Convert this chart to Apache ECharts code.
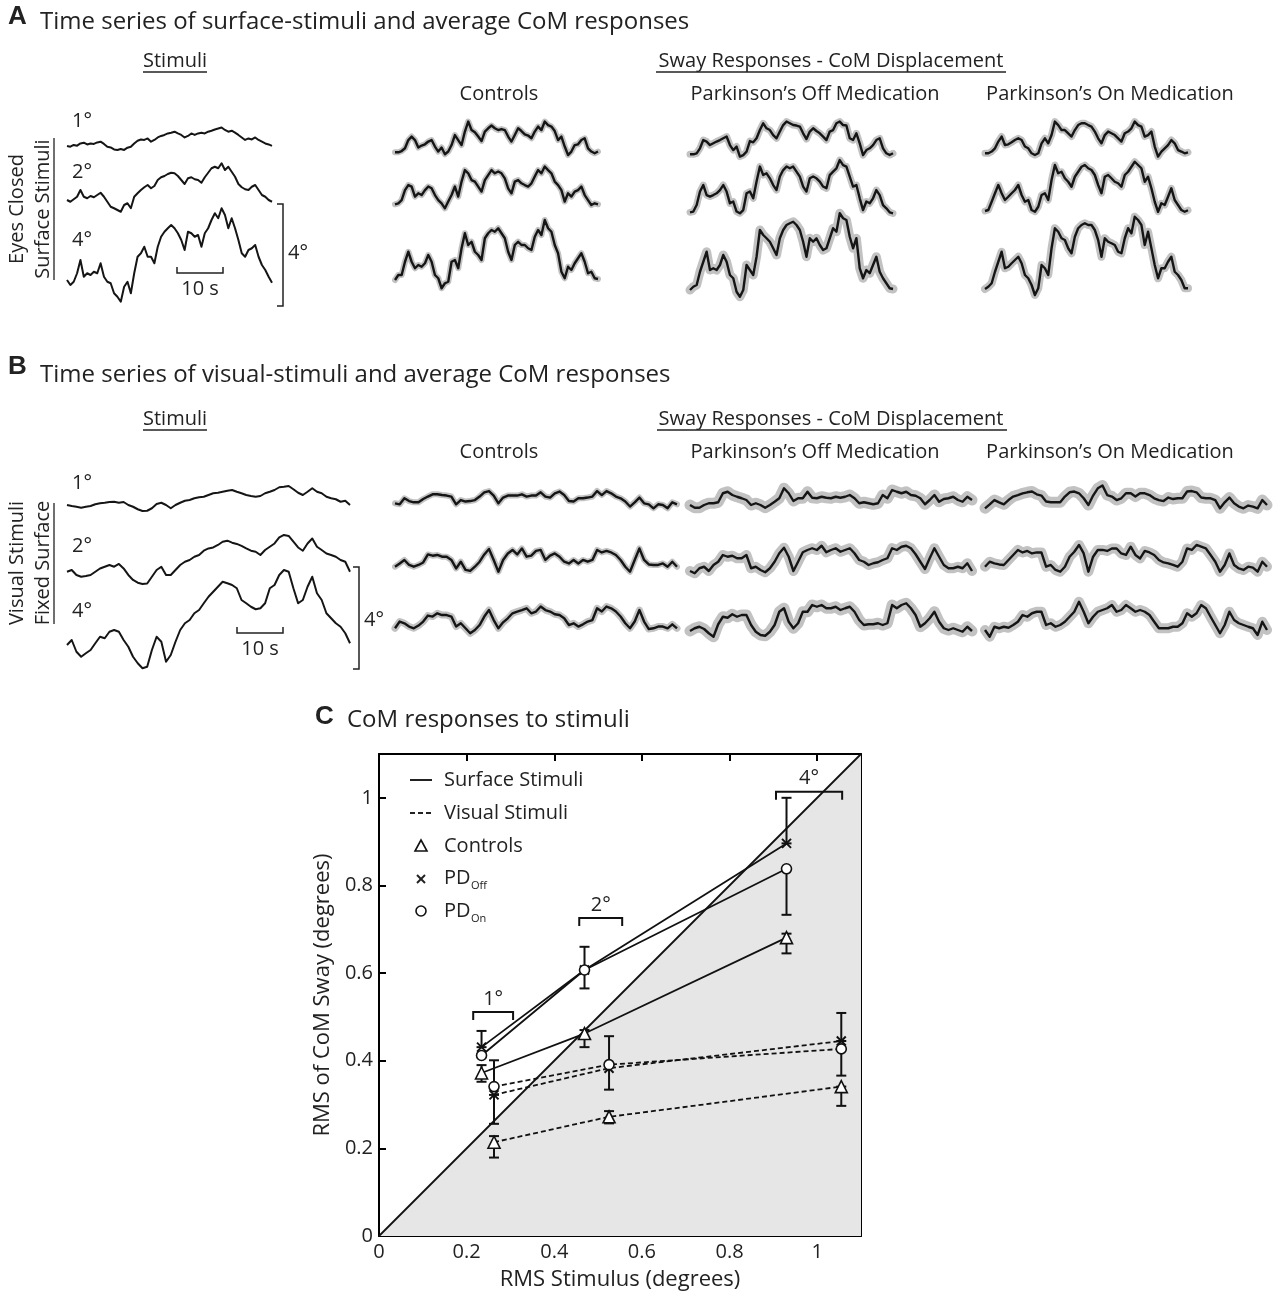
<!DOCTYPE html>
<html><head><meta charset="utf-8">
<script src="https://cdn.jsdelivr.net/npm/echarts@6/dist/echarts.min.js"></script>
<style>html,body{margin:0;padding:0;background:#fff}#c{width:1273px;height:1300px}</style>
</head><body><div id="c"></div>
<script>
// ---------- Panel A: surface stimuli (degrees) ----------
const stimA1 = [0.03,0,0.07,0.04,0.13,0.16,0.09,0.13,0.11,0.17,0.2,0.11,0,-0.03,-0.11,-0.13,-0.09,-0.13,-0.04,0,0.13,0.24,0.29,0.27,0.33,0.2,0.27,0.37,0.43,0.47,0.53,0.56,0.6,0.53,0.47,0.37,0.43,0.53,0.47,0.53,0.56,0.53,0.6,0.64,0.69,0.73,0.77,0.67,0.6,0.64,0.56,0.47,0.37,0.27,0.33,0.29,0.37,0.27,0.2,0.13,0.09,0.03];
const stimA2 = [0,-0.07,0.03,0.13,0.4,0.13,0.07,0.16,0.11,0.2,0.29,0.13,-0.07,-0.27,-0.33,-0.4,-0.47,-0.2,-0.13,-0.33,0.13,0.27,0.4,0.51,0.6,0.47,0.56,0.8,0.91,0.96,1.04,1.09,1.07,0.96,0.8,0.64,0.87,0.91,0.83,0.8,0.69,0.91,1.09,1.27,1.33,1.27,1.47,1.2,1.33,1.13,0.93,0.64,0.51,0.43,0.4,0.53,0.6,0.4,0.2,0.13,0,-0.07];
const stimA4 = [0,-0.2,-0.07,0.27,0.8,0.13,0.27,0.2,0.33,0.27,0.67,0.13,-0.07,-0.13,-0.53,-0.67,-0.87,-0.27,-0.07,-0.53,0.27,0.93,1.07,1.33,0.93,0.93,0.67,1.33,1.73,1.93,2.07,2.2,2.07,1.87,1.6,1.2,1.93,1.87,1.73,1.8,1.33,1.87,2.07,2.4,2.67,2.47,2.87,2.6,2.07,2.47,2.07,1.6,1.07,0.93,1.2,1.27,1.4,0.93,0.6,0.4,0.13,-0.11];
// ---------- Panel A: mean CoM responses (degrees) ----------
const ctrlA1 = [0,0,0.05,0.16,0.49,0.63,0.49,0.19,0.27,0.32,0.43,0.49,0.23,0.03,0.19,-0.08,0.03,0.29,0.69,0.49,0.29,0.83,1.23,0.89,0.8,0.63,0.45,0.83,0.96,1.07,0.96,0.89,0.93,0.89,0.63,0.43,0.69,0.96,0.85,0.72,0.67,0.56,0.83,1.03,0.89,1.23,1.09,1.03,0.85,0.49,0.63,0.23,-0.11,0.03,0.29,0.32,0.49,0.56,0.16,0.03,-0.04,0.03];
const ctrlA2 = [0,0.04,0.17,0.57,0.77,0.71,0.31,0.44,0.37,0.57,0.71,0.64,0.37,0.17,0.04,-0.16,0.11,0.37,0.71,0.31,0.91,1.37,1.24,0.97,0.91,0.71,0.51,0.97,1.17,1.37,1.24,1.31,1.24,1.04,0.64,0.44,0.91,0.97,0.84,0.77,0.71,0.84,1.11,1.37,1.24,1.51,1.37,1.24,0.91,0.77,0.57,0.11,0.44,0.31,0.51,0.57,0.71,0.37,0.17,-0.03,0.04,0];
const ctrlA4 = [0,0.2,0.2,0.73,1.13,0.73,0.47,0.6,0.53,0.67,1,0.73,0.2,0.07,-0.33,-0.13,-0.07,0.73,0.8,0.47,1.27,1.87,1.4,1.53,1.13,1,0.8,1.67,1.87,2,1.93,2.07,1.87,1.67,1.13,0.8,1.4,1.53,1.4,1.4,1.27,1.2,1.73,2,1.8,2.4,2.07,1.93,1.4,1.07,0.33,0.07,0.53,0.4,0.67,0.87,1.07,0.73,0.27,0.33,0.07,0.04];
const offA1 = [0,0,0.04,0.24,0.57,0.51,0.37,0.44,0.51,0.57,0.64,0.71,0.37,0.17,0.31,-0.09,-0.03,0.11,0.53,0.48,0.64,0.97,1.24,1.04,0.97,0.77,0.64,0.91,1.17,1.31,1.24,1.17,1.15,1.11,0.84,0.61,0.91,1.04,0.93,0.84,0.71,0.57,0.91,0.97,1.24,1.31,1.17,1.15,0.64,0.57,0.84,0.44,-0.03,0.17,0.24,0.37,0.57,0.64,0.24,0.04,-0.03,0.04];
const offA2 = [0,0.03,0.29,0.83,1.09,0.69,0.63,0.69,0.76,0.89,1.09,0.83,0.36,0.43,0.03,-0.04,0.09,0.76,0.83,0.56,1.23,1.83,1.49,1.56,1.36,1.09,0.89,1.43,1.69,1.83,1.76,1.83,1.63,1.43,1.03,0.83,1.36,1.43,1.36,1.23,1.03,0.96,1.49,1.63,1.76,2.09,1.89,1.83,1.43,1.03,1.09,0.56,0.09,0.43,0.36,0.56,0.89,0.69,0.29,0.16,0,-0.04];
const offA4 = [0,0.13,0.2,0.73,1.13,1.53,0.8,0.87,0.8,1,1.4,1.13,0.6,0.47,-0.07,-0.27,0,1,0.8,0.6,1.33,2.4,2.2,2.07,1.93,1.67,1.4,2.07,2.4,2.6,2.67,2.73,2.6,2.4,1.93,1.33,2.07,1.93,2.07,1.8,1.6,1.67,2.07,2.47,2.33,3.07,2.87,2.8,2.13,1.67,2.07,0.87,0.47,0.8,0.67,1,1.33,0.73,0.47,0.27,0.07,0.04];
const onA1 = [0,0,0.07,0.2,0.47,0.67,0.33,0.36,0.44,0.53,0.6,0.53,0.27,0.2,0,-0.07,0,0.4,0.6,0.4,0.73,1.27,1.13,0.93,0.93,0.8,0.67,0.93,1.13,1.2,1.2,1.13,1.07,0.87,0.6,0.4,0.73,0.87,0.8,0.73,0.6,0.47,0.8,0.87,1,1.27,1.13,1.07,0.67,0.73,0.87,0.27,-0.13,0.07,0.2,0.33,0.53,0.4,0.13,0.07,0,0.04];
const onA2 = [0,0.04,0.37,0.71,1.04,0.71,0.44,0.57,0.71,0.84,1.04,0.64,0.37,0.44,0.04,-0.03,0.17,0.64,0.71,0.44,1.24,1.84,1.51,1.57,1.31,1.17,0.97,1.37,1.57,1.77,1.84,1.71,1.64,1.44,1.04,0.71,1.37,1.44,1.31,1.17,1.11,0.97,1.44,1.57,1.77,1.97,1.84,1.71,1.17,1.37,0.91,0.37,-0.03,0.31,0.24,0.57,0.91,0.44,0.24,0.04,-0.03,0.03];
const onA4 = [0,0.09,0.23,0.69,1.09,1.49,0.83,0.89,1.03,1.16,1.29,1.03,0.56,0.43,0.16,-0.24,0.03,0.96,0.83,0.56,1.63,2.43,2.29,2.03,1.96,1.63,1.43,2.09,2.43,2.56,2.63,2.56,2.56,2.36,1.96,1.29,2.03,1.89,1.83,1.76,1.49,1.43,2.03,2.43,2.23,2.89,2.76,2.56,1.76,2.29,1.63,0.96,0.43,0.83,0.83,1.09,1.29,0.69,0.56,0.36,0.03,0.03];
// ---------- Panel B: visual stimuli (degrees) ----------
const stimB1 = [0,-0.04,-0.07,-0.11,-0.07,-0.04,0.03,0.07,0.09,0.12,0.13,0.09,0.12,0,-0.07,-0.17,-0.24,-0.23,-0.13,0.04,0.09,0,-0.13,0,0.09,0.17,0.2,0.27,0.31,0.33,0.4,0.47,0.49,0.53,0.57,0.6,0.53,0.47,0.4,0.36,0.33,0.36,0.47,0.53,0.6,0.71,0.73,0.76,0.63,0.49,0.4,0.53,0.67,0.53,0.47,0.33,0.27,0.23,0.13,0.17,0];
const stimB2 = [0,0.07,-0.13,-0.2,-0.17,-0.13,0,0.13,0.2,0.27,0.2,0.31,0.13,-0.13,-0.33,-0.44,-0.49,-0.47,-0.2,0.07,0.2,-0.13,-0.13,0.07,0.27,0.4,0.47,0.6,0.67,0.84,0.93,0.97,1.07,1.2,1.24,1.16,1.11,1.03,0.93,0.84,0.8,0.67,0.87,1,1.13,1.37,1.47,1.43,1.2,0.97,0.84,1.13,1.33,1,0.87,0.73,0.67,0.6,0.47,0.4,0];
const stimB4 = [0,0.2,-0.27,-0.47,-0.33,-0.2,0.07,0.33,0.27,0.53,0.6,0.53,0.2,-0.07,-0.47,-0.73,-0.93,-0.87,-0.2,0.33,0.13,-0.67,-0.4,0.13,0.6,0.87,1,1.27,1.4,1.67,1.93,2.13,2.33,2.53,2.47,2.4,2.27,1.8,1.67,1.53,1.43,1.47,1.67,2.27,2.4,2.8,3,2.93,2.27,1.67,1.8,2.33,2.73,2.07,1.8,1.27,1.07,0.87,0.73,0.47,0.07];
// ---------- Panel B: mean CoM responses (degrees) ----------
const ctrlB1 = [0,-0.04,0.2,0.09,0.04,0.04,0.17,0.27,0.36,0.36,0.33,0.31,0.27,-0.04,0.13,0.07,0.09,0.13,0.27,0.44,0.49,0.31,0,0.23,0.31,0.31,0.31,0.36,0.27,0.31,0.31,0.44,0.27,0.23,0.4,0.47,0.33,0.09,0.07,0.2,0.2,0.23,0.27,0.49,0.33,0.49,0.4,0.27,0.2,0.07,-0.13,0.04,0.23,0,-0.04,-0.2,-0.04,-0.07,-0.2,0.04,-0.04];
const ctrlB2 = [0,0.13,0.27,0.07,0,0.07,0.17,0.49,0.44,0.47,0.4,0.4,0.27,-0.07,0.2,-0.13,-0.17,0,0.2,0.49,0.71,0.27,-0.2,0.27,0.53,0.67,0.49,0.73,0.4,0.44,0.63,0.67,0.27,0.44,0.53,0.4,0.2,0.13,0.27,0.13,0.27,0.2,0.27,0.67,0.57,0.63,0.57,0.47,0.27,0,-0.2,0.27,0.73,0.27,0.09,0.07,0.07,0.13,0,0.2,0];
const ctrlB4 = [0,0.27,0.2,0.07,0,0.11,0.27,0.51,0.47,0.6,0.53,0.53,0.47,0.07,0.2,0,-0.2,-0.07,0.13,0.47,0.73,0.33,0,0.24,0.4,0.6,0.67,0.73,0.8,0.6,0.67,0.87,0.73,0.67,0.56,0.53,0.4,0.13,0.2,0.07,0.16,0.27,0.33,0.8,0.67,0.87,0.8,0.67,0.47,0.2,0,0.27,0.73,0.27,-0.03,0,0.07,0.07,0,0.16,0];
const offB1 = [0,-0.11,-0.11,0,0.07,0.07,0.11,0.47,0.53,0.4,0.33,0.27,0.2,0,0.07,0,-0.11,0,0.13,0.27,0.67,0.47,0.16,0.27,0.27,0.53,0.29,0.27,0.33,0.29,0.27,0.33,0.29,0.33,0.4,0.27,0.07,0.11,0.07,0.03,0.07,0.4,0.27,0.6,0.53,0.47,0.53,0.4,0.37,0.27,0.03,0.2,0.4,0.13,0.24,0.27,0.33,0.2,0.13,0.33,0.2];
const offB2 = [0,-0.09,0.11,0.17,0,0.24,0.37,0.64,0.57,0.61,0.51,0.51,0.64,0.11,0.17,0.04,-0.05,0.11,0.37,0.71,0.93,0.57,0,0.37,0.75,0.84,0.91,0.84,1.01,0.75,0.84,0.91,0.77,0.84,0.91,0.71,0.44,0.37,0.24,0.31,0.35,0.44,0.51,0.91,0.84,0.97,1.01,0.91,0.67,0.37,0.08,0.51,0.91,0.57,0.24,0.11,0.11,0.17,0.11,0.31,0];
const offB4 = [0,0.11,0.17,0.08,-0.09,-0.23,0.27,0.57,0.53,0.67,0.57,0.64,0.64,0.24,-0.03,-0.16,-0.19,-0.03,0.24,0.77,0.91,0.37,0.11,0.31,0.77,0.77,1.04,0.97,1.04,0.91,0.91,0.97,0.84,0.91,0.97,0.77,0.44,0.24,0.27,0.27,0.31,0.24,0.31,1.04,0.91,1.04,1.11,0.91,0.64,0.17,0.31,0.51,0.77,0.37,0.11,0.04,0.11,0.04,-0.03,0.17,0];
const onB1 = [0,0.16,0.33,0.24,0.16,0.33,0.47,0.53,0.6,0.64,0.67,0.56,0.51,0.27,0.24,0.24,0.24,0.47,0.64,0.67,0.6,0.4,0.13,0.51,0.8,0.91,0.53,0.47,0.33,0.4,0.6,0.6,0.47,0.6,0.6,0.53,0.4,0.33,0.29,0.43,0.37,0.4,0.4,0.67,0.69,0.64,0.43,0.4,0.4,0.33,0,0.24,0.43,0.2,0.07,0,0.11,0.07,0,0.33,0.13];
const onB2 = [0,0.2,0.13,0.09,0.07,0.27,0.47,0.67,0.57,0.63,0.53,0.57,0.57,0,0.07,-0.13,-0.2,0,0.4,0.6,0.87,0.53,-0.2,0.4,0.67,0.67,0.63,0.73,0.73,0.53,0.47,0.8,0.47,0.33,0.63,0.57,0.47,0.27,0.17,0.13,0.07,0,0.2,0.73,0.67,0.87,0.8,0.73,0.47,0.2,-0.2,0.07,0.53,0.07,-0.07,-0.13,0,-0.04,-0.2,0.2,0];
const onB4 = [0,-0.27,0.13,0.07,0.13,0.09,0.2,0.33,0.6,0.53,0.67,0.73,0.73,0.2,0.27,0.13,0.2,0.33,0.53,0.73,1.13,0.73,0.27,0.53,0.73,0.8,0.87,1,0.73,0.8,1,0.87,0.73,0.8,0.73,0.6,0.33,0.07,0.07,0.07,0.13,0.13,0.27,0.67,0.53,0.67,1,0.87,0.53,0.2,-0.13,0.2,0.73,0.4,0.27,0.2,0.13,0.07,-0.2,0.33,0];
// ---------- Panel C: RMS values (degrees) ----------
const surfaceStimRMS = [0.234, 0.469, 0.93];
const visualStimRMS = [0.2625, 0.525, 1.055];
const surfCtrl = [0.372, 0.462, 0.681];
const surfOff = [0.431, 0.607, 0.896];
const surfOn = [0.412, 0.607, 0.838];
const visCtrl = [0.214, 0.272, 0.341];
const visOff = [0.322, 0.383, 0.445];
const visOn = [0.341, 0.391, 0.427];
const surfCtrlErr = [[0.352,0.390],[0.431,0.470],[0.645,0.690]];
const surfOffErr = [[0.431,0.468],[0.565,0.660],[0.896,1.000]];
const surfOnErr = [null, null, [0.733,0.838]];
const visCtrlErr = [[0.179,0.228],[0.257,0.285],[0.297,0.341]];
const visOffErr = [[0.256,0.322],[0.334,0.456],[0.445,0.509]];
const visOnErr = [[0.341,0.401], null, [0.366,0.427]];
const identityExtent = [0, 1.1];
const bracketLabels = ['1°', '2°', '4°'];
const bracketSpans = [[0.215, 0.306, 0.511], [0.457, 0.555, 0.726], [0.906, 1.057, 1.014]];

// ---------- layout ----------
const FONT = 'Open Sans';
const PX_PER_DEG = 25, HALF = 3.5;
const traces = [
  {d: stimA1, left: 67, width: 205, base: 146.7, band: 0},
  {d: stimA2, left: 67, width: 205, base: 200, band: 0},
  {d: stimA4, left: 67, width: 205, base: 280, band: 0},
  {d: ctrlA1, left: 395, width: 203, base: 152.3, band: 6},
  {d: ctrlA2, left: 395, width: 203, base: 204.3, band: 6},
  {d: ctrlA4, left: 395, width: 203, base: 280, band: 6},
  {d: offA1, left: 690, width: 203, base: 154.3, band: 7},
  {d: offA2, left: 690, width: 203, base: 212.3, band: 7},
  {d: offA4, left: 690, width: 203, base: 290, band: 9},
  {d: onA1, left: 985, width: 203, base: 153.3, band: 7},
  {d: onA2, left: 985, width: 203, base: 211, band: 7},
  {d: onA4, left: 985, width: 203, base: 289, band: 8},
  {d: stimB1, left: 67, width: 283, base: 505, band: 0},
  {d: stimB2, left: 67, width: 283, base: 571.7, band: 0},
  {d: stimB4, left: 67, width: 283, base: 645, band: 0},
  {d: ctrlB1, left: 395, width: 282, base: 503.3, band: 6},
  {d: ctrlB2, left: 395, width: 282, base: 566.7, band: 6},
  {d: ctrlB4, left: 395, width: 282, base: 628.3, band: 7},
  {d: offB1, left: 690, width: 282, base: 505, band: 11},
  {d: offB2, left: 690, width: 282, base: 571, band: 10},
  {d: offB4, left: 690, width: 282, base: 631, band: 11},
  {d: onB1, left: 985, width: 282, base: 508.3, band: 11},
  {d: onB2, left: 985, width: 282, base: 566.7, band: 10},
  {d: onB4, left: 985, width: 282, base: 630, band: 10}
];

const grids = [], xAxes = [], yAxes = [], series = [];
traces.forEach((t, i) => {
  grids.push({left: t.left, width: t.width, top: t.base - HALF * PX_PER_DEG, height: 2 * HALF * PX_PER_DEG, outerBoundsMode: 'none'});
  xAxes.push({type: 'category', gridIndex: i, data: t.d.map((_, k) => k), boundaryGap: false, show: false});
  yAxes.push({type: 'value', gridIndex: i, min: -HALF, max: HALF, show: false});
  if (t.band) series.push({type: 'line', xAxisIndex: i, yAxisIndex: i, data: t.d, symbol: 'none', silent: true, z: 1,
    lineStyle: {color: '#c2c2c2', width: t.band, cap: 'round', join: 'round'}});
  series.push({type: 'line', xAxisIndex: i, yAxisIndex: i, data: t.d, symbol: 'none', silent: true, z: 2,
    lineStyle: {color: '#151515', width: t.band ? 2.4 : 2, join: 'round'}});
});

// ---------- Panel C ----------
const ci = traces.length;
grids.push({left: 379, top: 754, width: 482, height: 482, outerBoundsMode: 'none'});
const axisLineStyle = {onZero: false, lineStyle: {color: '#000', width: 2}};
const tickStyle = {inside: true, length: 7, lineStyle: {color: '#000', width: 2}};
const fmt = v => (v > 1.05 ? '' : String(Math.round(v * 10) / 10));
const tickLabel = {formatter: fmt, fontSize: 20, color: '#222', margin: 6, fontFamily: FONT, showMaxLabel: false};
xAxes.push({type: 'value', gridIndex: ci, min: 0, max: 1.1, interval: 0.2, position: 'bottom',
  axisLine: axisLineStyle, axisTick: tickStyle, splitLine: {show: false}, axisLabel: tickLabel,
  name: 'RMS Stimulus (degrees)', nameLocation: 'middle', nameGap: 33,
  nameTextStyle: {fontSize: 22, color: '#222', fontFamily: FONT}});
xAxes.push({type: 'value', gridIndex: ci, min: 0, max: 1.1, interval: 0.2, position: 'top',
  axisLine: axisLineStyle, axisTick: tickStyle, splitLine: {show: false}, axisLabel: {show: false}});
yAxes.push({type: 'value', gridIndex: ci, min: 0, max: 1.1, interval: 0.2, position: 'left',
  axisLine: axisLineStyle, axisTick: tickStyle, splitLine: {show: false}, axisLabel: tickLabel,
  name: 'RMS of CoM Sway (degrees)', nameLocation: 'middle', nameGap: 45,
  nameTextStyle: {fontSize: 22, color: '#222', fontFamily: FONT}});
yAxes.push({type: 'value', gridIndex: ci, min: 0, max: 1.1, interval: 0.2, position: 'right',
  axisLine: axisLineStyle, axisTick: tickStyle, splitLine: {show: false}, axisLabel: {show: false}});

series.push({type: 'line', xAxisIndex: ci, yAxisIndex: ci, data: identityExtent.map(v => [v, v]), symbol: 'none', silent: true, z: 1,
  lineStyle: {color: '#111', width: 1.8}, areaStyle: {color: '#e6e6e6', opacity: 1}});

const X_SYMBOL = 'path://M0,0L10,10M10,0L0,10';
const groups = [
  {xs: surfaceStimRMS, ys: surfCtrl, err: surfCtrlErr, sym: 'triangle', size: 12, dash: 'solid'},
  {xs: surfaceStimRMS, ys: surfOff, err: surfOffErr, sym: X_SYMBOL, size: 9, dash: 'solid'},
  {xs: surfaceStimRMS, ys: surfOn, err: surfOnErr, sym: 'circle', size: 10, dash: 'solid'},
  {xs: visualStimRMS, ys: visCtrl, err: visCtrlErr, sym: 'triangle', size: 12, dash: [5, 3]},
  {xs: visualStimRMS, ys: visOff, err: visOffErr, sym: X_SYMBOL, size: 9, dash: [5, 3]},
  {xs: visualStimRMS, ys: visOn, err: visOnErr, sym: 'circle', size: 10, dash: [5, 3]}
];
const errData = [];
groups.forEach(g => g.err.forEach((e, k) => { if (e) errData.push([g.xs[k], e[0], e[1]]); }));
series.push({type: 'custom', xAxisIndex: ci, yAxisIndex: ci, data: errData, silent: true, z: 4, clip: false,
  renderItem: (params, api) => {
    const lo = api.coord([api.value(0), api.value(1)]), hi = api.coord([api.value(0), api.value(2)]);
    const w = 5, st = {stroke: '#111', lineWidth: 2};
    return {type: 'group', children: [
      {type: 'line', shape: {x1: lo[0], y1: lo[1], x2: hi[0], y2: hi[1]}, style: st},
      {type: 'line', shape: {x1: lo[0] - w, y1: lo[1], x2: lo[0] + w, y2: lo[1]}, style: st},
      {type: 'line', shape: {x1: hi[0] - w, y1: hi[1], x2: hi[0] + w, y2: hi[1]}, style: st}
    ]};
  }});
groups.forEach(g => {
  series.push({type: 'line', xAxisIndex: ci, yAxisIndex: ci, data: g.xs.map((x, k) => [x, g.ys[k]]), silent: true, z: 5,
    symbol: g.sym, symbolSize: g.size, showSymbol: true,
    itemStyle: {color: g.sym === X_SYMBOL ? 'rgba(0,0,0,0)' : '#fff', borderColor: '#111', borderWidth: g.sym === X_SYMBOL ? 2 : 1.6},
    lineStyle: {color: '#111', width: 1.8, type: g.dash}});
});
series.push({type: 'custom', xAxisIndex: ci, yAxisIndex: ci, data: bracketSpans, silent: true, z: 6, clip: false,
  renderItem: (params, api) => {
    const a = api.coord([api.value(0), api.value(2)]), b = api.coord([api.value(1), api.value(2)]);
    const h = 8;
    return {type: 'group', children: [
      {type: 'polyline', shape: {points: [[a[0], a[1] + h], [a[0], a[1]], [b[0], b[1]], [b[0], b[1] + h]]},
        style: {stroke: '#111', lineWidth: 2, fill: null}},
      {type: 'text', style: {text: bracketLabels[params.dataIndex], x: (a[0] + b[0]) / 2, y: a[1] - 3,
        align: 'center', verticalAlign: 'bottom', fontSize: 20, fontFamily: FONT, fill: '#222'}}
    ]};
  }});

// ---------- text & annotation graphics ----------
const G = [];
function txt(x, y, s, o = {}) {
  G.push({type: 'text', x, y, rotation: o.rot || 0, z: 10,
    style: {text: s, fontSize: o.size || 20, fontFamily: o.font || FONT, fontWeight: o.bold ? 'bold' : 'normal',
      fill: '#222', align: o.align || 'left', verticalAlign: 'middle'}});
}
function ln(x1, y1, x2, y2, o = {}) {
  G.push({type: 'line', z: 10, shape: {x1, y1, x2, y2}, style: {stroke: '#222', lineWidth: o.w || 1.5, lineDash: o.dash || null}});
}
function poly(points, w) {
  G.push({type: 'polyline', z: 10, shape: {points}, style: {stroke: '#222', lineWidth: w || 1.5, fill: null}});
}
const R = Math.PI / 2;
// Panel A
txt(8, 17, 'A', {bold: true, size: 26, font: 'Liberation Sans'});
txt(40, 22, 'Time series of surface-stimuli and average CoM responses', {size: 24});
txt(175, 61, 'Stimuli', {align: 'center'}); ln(143, 72, 207, 72, {w: 1.3});
txt(831, 61, 'Sway Responses - CoM Displacement', {align: 'center'}); ln(656, 72, 1006, 72, {w: 1.3});
txt(499, 94, 'Controls', {align: 'center'});
txt(815, 94, 'Parkinson\u2019s Off Medication', {align: 'center'});
txt(1110, 94, 'Parkinson\u2019s On Medication', {align: 'center'});
txt(72, 121, '1°'); txt(72, 172, '2°'); txt(72, 240, '4°');
txt(17, 209, 'Eyes Closed', {rot: R, align: 'center'});
txt(43, 209, 'Surface Stimuli', {rot: R, align: 'center'}); ln(54, 138, 54, 280, {w: 1.3});
poly([[177, 267], [177, 273], [223, 273], [223, 267]]);
txt(200, 289, '10 s', {align: 'center'});
poly([[277, 204], [283, 204], [283, 306], [277, 306]]);
txt(288, 253, '4°');
// Panel B
txt(8, 367, 'B', {bold: true, size: 26, font: 'Liberation Sans'});
txt(40, 375, 'Time series of visual-stimuli and average CoM responses', {size: 24});
txt(175, 419, 'Stimuli', {align: 'center'}); ln(143, 430, 207, 430, {w: 1.3});
txt(831, 419, 'Sway Responses - CoM Displacement', {align: 'center'}); ln(657, 430, 1007, 430, {w: 1.3});
txt(499, 452, 'Controls', {align: 'center'});
txt(815, 452, 'Parkinson\u2019s Off Medication', {align: 'center'});
txt(1110, 452, 'Parkinson\u2019s On Medication', {align: 'center'});
txt(72, 483, '1°'); txt(72, 546, '2°'); txt(72, 611, '4°');
txt(17, 563, 'Visual Stimuli', {rot: R, align: 'center'});
txt(43, 563, 'Fixed Surface', {rot: R, align: 'center'}); ln(54, 503, 54, 624, {w: 1.3});
poly([[237, 627], [237, 633], [283, 633], [283, 627]]);
txt(260, 649, '10 s', {align: 'center'});
poly([[353, 567], [359, 567], [359, 669], [353, 669]]);
txt(364, 620, '4°');
// Panel C
txt(315, 717, 'C', {bold: true, size: 26, font: 'Liberation Sans'});
txt(347, 720, 'CoM responses to stimuli', {size: 24});
// Panel C legend
ln(410, 780, 432, 780, {w: 2}); txt(444, 780, 'Surface Stimuli');
ln(410, 813, 432, 813, {w: 2, dash: [5, 3]}); txt(444, 813, 'Visual Stimuli');
G.push({type: 'polygon', z: 10, shape: {points: [[421, 840], [427, 851], [415, 851]]}, style: {stroke: '#111', lineWidth: 1.6, fill: '#fff'}});
txt(444, 846, 'Controls');
ln(417, 875, 425, 883, {w: 2}); ln(425, 875, 417, 883, {w: 2});
txt(444, 878, 'PD'); txt(471, 886, 'Off', {size: 11});
G.push({type: 'circle', z: 10, shape: {cx: 421, cy: 911, r: 5}, style: {stroke: '#111', lineWidth: 1.6, fill: '#fff'}});
txt(444, 911, 'PD'); txt(471, 919, 'On', {size: 11});

const chart = echarts.init(document.getElementById('c'));
chart.setOption({
  animation: false,
  backgroundColor: '#fff',
  textStyle: {fontFamily: FONT},
  grid: grids, xAxis: xAxes, yAxis: yAxes, series, graphic: G
});
</script></body></html>
